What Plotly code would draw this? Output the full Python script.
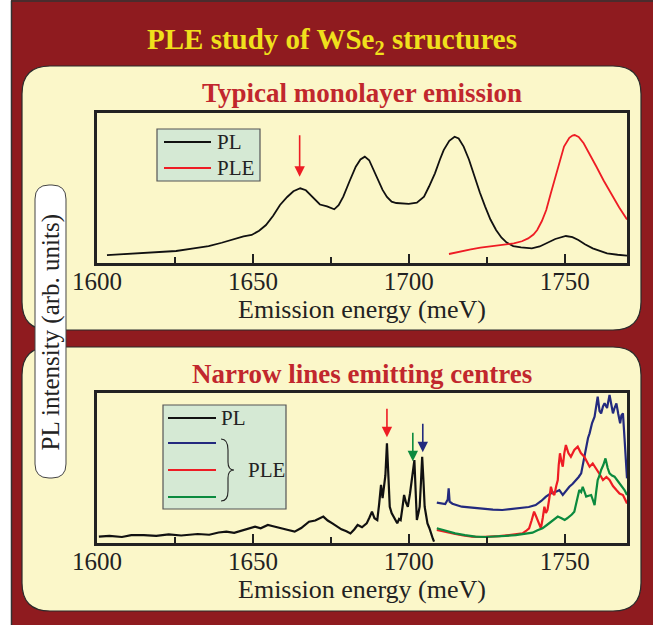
import plotly.graph_objects as go

W, H = 653, 625

# ---------------- data ----------------
# Upper panel: typical monolayer emission
pl_top_e = [1603.2, 1610, 1618, 1625.4, 1631, 1635.8, 1640, 1643.8, 1647, 1649.6, 1652, 1654.2,
            1656.5, 1658.7, 1661, 1663, 1665.2, 1667, 1668, 1669.8, 1671.5, 1673.8, 1676.1,
            1677.5, 1679, 1681, 1683, 1684.5, 1685.9, 1687.3, 1688.7, 1690.2, 1691.6, 1693,
            1694.5, 1696, 1698, 1700, 1702.6, 1704.9, 1706.5, 1708.4, 1710, 1711.2, 1713,
            1714.7, 1716, 1717.6, 1719.3, 1721, 1722.8, 1724.5, 1726.2, 1728, 1729.7, 1731.4,
            1733.5, 1736, 1739.5, 1742, 1744.1, 1747, 1750.4, 1752.5, 1754.4, 1756.5, 1759,
            1761.5, 1763.6, 1767, 1770]
pl_top_i = [0.053, 0.060, 0.070, 0.080, 0.098, 0.113, 0.135, 0.160, 0.178, 0.187, 0.215, 0.253,
            0.315, 0.387, 0.440, 0.478, 0.498, 0.485, 0.464, 0.425, 0.390, 0.378, 0.358,
            0.385, 0.442, 0.545, 0.642, 0.690, 0.709, 0.685, 0.620, 0.548, 0.487, 0.440,
            0.409, 0.400, 0.398, 0.394, 0.402, 0.442, 0.510, 0.598, 0.690, 0.753, 0.815,
            0.842, 0.830, 0.776, 0.690, 0.576, 0.470, 0.376, 0.290, 0.220, 0.170, 0.136,
            0.113, 0.104, 0.098, 0.110, 0.131, 0.160, 0.180, 0.172, 0.153, 0.125, 0.098,
            0.078, 0.064, 0.055, 0.049]

ple_top_e = [1712.9, 1716, 1719.9, 1723, 1726.8, 1730, 1733.7, 1736.3, 1738.3, 1740, 1741.2,
             1742.7, 1744.1, 1745.5, 1747, 1748.5, 1749.8, 1751.5, 1752.5, 1753.2, 1754.5,
             1756.1, 1758, 1760.2, 1762.5, 1764.8, 1767.5, 1770]
ple_top_i = [0.060, 0.075, 0.091, 0.103, 0.113, 0.122, 0.131, 0.145, 0.164, 0.190, 0.220,
             0.280, 0.353, 0.460, 0.576, 0.690, 0.776, 0.835, 0.850, 0.853, 0.840,
             0.798, 0.730, 0.642, 0.550, 0.464, 0.370, 0.290]

# Lower panel: narrow lines emitting centres
pl_bot_e = [1600.6, 1604, 1608, 1611, 1615, 1619, 1623, 1627, 1632.3, 1636, 1639, 1641.5,
            1644, 1647, 1650.7, 1652.5, 1654.8, 1656.5, 1658.8, 1661, 1663.4, 1665.5, 1668,
            1670, 1672.6, 1674, 1675.5, 1677, 1678.4, 1680, 1681.3, 1682.5, 1683.6, 1685,
            1686.5, 1687.4, 1688.2, 1689, 1689.9, 1690.5, 1691.1, 1691.6, 1692, 1692.5, 1693,
            1693.5, 1693.9, 1694.5, 1695.1, 1695.7, 1696.3, 1696.9, 1697.4, 1698, 1698.5,
            1699.1, 1699.7, 1700.4, 1701.1, 1701.8, 1702.2, 1702.6, 1703.1, 1703.5, 1703.9,
            1704.3, 1704.7, 1705.1, 1705.6, 1706, 1706.6, 1707.2, 1707.7, 1708.1]
pl_bot_i = [0.042, 0.048, 0.040, 0.052, 0.053, 0.047, 0.058, 0.050, 0.060, 0.055, 0.070, 0.076,
            0.068, 0.085, 0.109, 0.098, 0.120, 0.112, 0.098, 0.088, 0.076, 0.100, 0.142,
            0.150, 0.176, 0.150, 0.131, 0.110, 0.091, 0.078, 0.064, 0.090, 0.120, 0.105,
            0.131, 0.170, 0.209, 0.165, 0.153, 0.260, 0.387, 0.300, 0.353, 0.450, 0.664,
            0.420, 0.242, 0.200, 0.176, 0.150, 0.131, 0.160, 0.153, 0.240, 0.320,
            0.270, 0.242, 0.330, 0.442, 0.553, 0.350, 0.153, 0.200, 0.242, 0.400,
            0.575, 0.420, 0.242, 0.180, 0.131, 0.100, 0.053, 0.030, 0.009]

ple_blue_e = [1709, 1710.5, 1711.7, 1712.5, 1712.8, 1713.1, 1714, 1717, 1720, 1723.5, 1727,
              1730, 1733, 1736.5, 1738.5, 1740.7, 1742.5, 1744, 1745.5, 1747.2, 1748.3,
              1749.4, 1750.5, 1751.5, 1752.6, 1753.7, 1754.5, 1755.3, 1756.1, 1756.9, 1757.5,
              1758, 1758.8, 1759.6, 1760.1, 1760.6, 1761.2, 1761.7, 1762.3, 1762.8, 1763.6,
              1764.4, 1765, 1765.5, 1766, 1766.6, 1767.2, 1767.8, 1768.2, 1768.7, 1769.2,
              1769.6, 1770]
ple_blue_i = [0.269, 0.265, 0.260, 0.290, 0.364, 0.276, 0.262, 0.242, 0.236, 0.224, 0.222,
              0.220, 0.226, 0.231, 0.240, 0.253, 0.280, 0.309, 0.330, 0.342, 0.352,
              0.320, 0.350, 0.375, 0.395, 0.420, 0.440, 0.464, 0.560, 0.642, 0.700,
              0.731, 0.800, 0.842, 0.900, 0.975, 0.880, 0.864, 0.910, 0.931, 0.900,
              0.987, 0.920, 0.864, 0.900, 0.931, 0.860, 0.798, 0.850, 0.864, 0.700,
              0.553, 0.431]

ple_red_e = [1709, 1712, 1714.9, 1717.5, 1720.3, 1723, 1725.7, 1729, 1732.2, 1734.5, 1736.5,
             1737.6, 1738.6, 1739.4, 1740.2, 1740.8, 1741.3, 1741.9, 1742.4, 1743, 1743.5,
             1744, 1744.5, 1745.1, 1745.6, 1746.2, 1746.7, 1747.3, 1747.8, 1748.1, 1748.5,
             1749, 1749.4, 1749.9, 1750.4, 1751.2, 1752, 1753.1, 1754.2, 1755.2, 1756.3,
             1757.2, 1758, 1759, 1760.1, 1761.2, 1762.3, 1763.4, 1764.4, 1765.5, 1766.6,
             1767.6, 1768.7, 1769.5, 1770]
ple_red_i = [0.087, 0.072, 0.060, 0.050, 0.042, 0.040, 0.042, 0.046, 0.053, 0.058, 0.064,
             0.080, 0.098, 0.150, 0.209, 0.180, 0.153, 0.120, 0.098, 0.170, 0.242,
             0.200, 0.220, 0.300, 0.375, 0.330, 0.320, 0.380, 0.420, 0.520, 0.598,
             0.540, 0.509, 0.600, 0.653, 0.600, 0.575, 0.620, 0.642, 0.600, 0.575,
             0.540, 0.509, 0.530, 0.498, 0.460, 0.420, 0.440, 0.420, 0.380, 0.353,
             0.330, 0.320, 0.290, 0.264]

ple_green_e = [1709, 1712, 1714.9, 1718, 1721.4, 1724.5, 1727.8, 1731, 1734.3, 1737, 1739.7,
               1741.3, 1742.9, 1744.3, 1745.6, 1746.7, 1747.8, 1749, 1750, 1750.8, 1751.5,
               1752.3, 1753.1, 1753.9, 1754.7, 1755.3, 1755.8, 1756.4, 1756.9, 1757.7,
               1758.5, 1759, 1759.6, 1760.1, 1760.6, 1761.2, 1761.7, 1762.4, 1763.1, 1763.8,
               1764.4, 1765.2, 1766, 1766.8, 1767.6, 1768.4, 1769.2, 1770]
ple_green_i = [0.098, 0.080, 0.064, 0.052, 0.042, 0.040, 0.042, 0.047, 0.053, 0.060, 0.069,
               0.085, 0.098, 0.120, 0.142, 0.160, 0.176, 0.165, 0.153, 0.165, 0.176,
               0.190, 0.209, 0.280, 0.353, 0.340, 0.375, 0.340, 0.309, 0.315,
               0.320, 0.290, 0.253, 0.340, 0.420, 0.450, 0.487, 0.520, 0.564, 0.500,
               0.464, 0.450, 0.442, 0.420, 0.398, 0.370, 0.353, 0.320]

# excitation arrows: (energy, tip height, colour)
arrows_top = [(1665.0, 0.575, "#ee1c24")]
arrows_bot = [(1693.0, 0.705, "#ee1c24"), (1701.3, 0.545, "#0b8a3e"), (1704.5, 0.605, "#232a7e")]

tick_vals = [1600, 1650, 1700, 1750]
tick_text = ["1600", "1650", "1700", "1750"]

# ---------------- styling ----------------
SERIF = "Liberation Serif, Times New Roman, serif"
FRAME = "#8f1b1f"
CREAM = "#fbf7c9"
TITLE_RED = "#c1272d"
INK = "#222222"
LEG_FILL = "#d5e9d4"
C_BLACK = "#111111"
C_RED = "#ee1c24"
C_BLUE = "#232a7e"
C_GREEN = "#0b8a3e"


def px(x):
    return x / W


def py(y):
    return 1 - y / H


def pth(cmds):
    out = []
    for seg in cmds:
        cmd = seg[0]
        coords = " ".join(f"{px(a):.5f},{py(b):.5f}" for a, b in seg[1:])
        out.append(f"{cmd} {coords}")
    return " ".join(out)


def rrect(x0, y0, x1, y1, r):
    return pth([
        ("M", (x0 + r, y0)), ("L", (x1 - r, y0)), ("Q", (x1, y0), (x1, y0 + r)),
        ("L", (x1, y1 - r)), ("Q", (x1, y1), (x1 - r, y1)), ("L", (x0 + r, y1)),
        ("Q", (x0, y1), (x0, y1 - r)), ("L", (x0, y0 + r)), ("Q", (x0, y0), (x0 + r, y0)),
    ]) + " Z"


fig = go.Figure()

fig.add_trace(go.Scatter(x=pl_top_e, y=pl_top_i, mode="lines", line=dict(color=C_BLACK, width=1.8),
                         xaxis="x", yaxis="y", showlegend=False))
fig.add_trace(go.Scatter(x=ple_top_e, y=ple_top_i, mode="lines", line=dict(color=C_RED, width=1.8),
                         xaxis="x", yaxis="y", showlegend=False))
fig.add_trace(go.Scatter(x=pl_bot_e, y=pl_bot_i, mode="lines", line=dict(color=C_BLACK, width=2.2),
                         xaxis="x2", yaxis="y2", showlegend=False))
fig.add_trace(go.Scatter(x=ple_blue_e, y=ple_blue_i, mode="lines", line=dict(color=C_BLUE, width=2.2),
                         xaxis="x2", yaxis="y2", showlegend=False))
fig.add_trace(go.Scatter(x=ple_red_e, y=ple_red_i, mode="lines", line=dict(color=C_RED, width=2.2),
                         xaxis="x2", yaxis="y2", showlegend=False))
fig.add_trace(go.Scatter(x=ple_green_e, y=ple_green_i, mode="lines", line=dict(color=C_GREEN, width=2.2),
                         xaxis="x2", yaxis="y2", showlegend=False))

shapes = []
# white strip and dark edge of the frame
shapes.append(dict(type="rect", xref="paper", yref="paper", x0=0, x1=px(11), y0=0, y1=1,
                   fillcolor="white", line=dict(width=0), layer="below"))
shapes.append(dict(type="line", xref="paper", yref="paper", x0=px(11.5), x1=px(11.5), y0=0, y1=py(0.5),
                   line=dict(color="#333", width=1.5), layer="below"))
shapes.append(dict(type="line", xref="paper", yref="paper", x0=px(11.5), x1=1, y0=py(1), y1=py(1),
                   line=dict(color="#333", width=1.5), layer="below"))
# cream panels
for y0, y1 in [(66, 330), (347, 611)]:
    shapes.append(dict(type="path", xref="paper", yref="paper", path=rrect(22, y0, 641, y1, 28),
                       fillcolor=CREAM, line=dict(color="#2b2b2b", width=1.2), layer="below"))
# rounded box for the shared y label
shapes.append(dict(type="path", xref="paper", yref="paper", path=rrect(35, 185, 66, 478, 14),
                   fillcolor="white", line=dict(color="#444", width=1), layer="below"))

# legend, upper panel
shapes.append(dict(type="rect", xref="paper", yref="paper", x0=px(157), x1=px(260), y0=py(181), y1=py(129),
                   fillcolor=LEG_FILL, line=dict(color="#555", width=1.2), layer="above"))
for yy, col in [(142, C_BLACK), (168, C_RED)]:
    shapes.append(dict(type="line", xref="paper", yref="paper", x0=px(164), x1=px(211), y0=py(yy), y1=py(yy),
                       line=dict(color=col, width=1.8), layer="above"))
# legend, lower panel
shapes.append(dict(type="rect", xref="paper", yref="paper", x0=px(163), x1=px(286), y0=py(509), y1=py(405),
                   fillcolor=LEG_FILL, line=dict(color="#555", width=1.2), layer="above"))
for yy, col in [(418, C_BLACK), (443, C_BLUE), (470, C_RED), (497, C_GREEN)]:
    shapes.append(dict(type="line", xref="paper", yref="paper", x0=px(168), x1=px(216), y0=py(yy), y1=py(yy),
                       line=dict(color=col, width=1.8), layer="above"))
# curly brace grouping the PLE lines
brace = pth([
    ("M", (221, 439)),
    ("C", (226, 439), (228, 443), (228, 450)),
    ("L", (228, 462)),
    ("C", (228, 468), (230, 470), (234, 470)),
    ("C", (230, 470), (228, 472), (228, 478)),
    ("L", (228, 491)),
    ("C", (228, 498), (226, 501), (221, 501)),
])
shapes.append(dict(type="path", xref="paper", yref="paper", path=brace,
                   line=dict(color="#222", width=1.1), layer="above"))

annotations = [
    dict(text="<b>PLE study of WSe<sub>2</sub> structures</b>", x=px(332), y=py(41), xref="paper", yref="paper",
         showarrow=False, font=dict(family=SERIF, size=29, color="#f0e01c"), xanchor="center", yanchor="middle"),
    dict(text="<b>Typical monolayer emission</b>", x=px(362), y=py(93), xref="paper", yref="paper",
         showarrow=False, font=dict(family=SERIF, size=27, color=TITLE_RED), xanchor="center", yanchor="middle"),
    dict(text="<b>Narrow lines emitting centres</b>", x=px(362), y=py(374), xref="paper", yref="paper",
         showarrow=False, font=dict(family=SERIF, size=27, color=TITLE_RED), xanchor="center", yanchor="middle"),
    dict(text="PL intensity (arb. units)", x=px(50.5), y=py(332), xref="paper", yref="paper", textangle=-90,
         showarrow=False, font=dict(family=SERIF, size=25, color=INK), xanchor="center", yanchor="middle"),
    dict(text="PL", x=px(215), y=py(142), xref="paper", yref="paper", showarrow=False,
         font=dict(family=SERIF, size=21, color=INK), xanchor="left", yanchor="middle"),
    dict(text="PLE", x=px(215), y=py(168), xref="paper", yref="paper", showarrow=False,
         font=dict(family=SERIF, size=21, color=INK), xanchor="left", yanchor="middle"),
    dict(text="PL", x=px(219), y=py(418), xref="paper", yref="paper", showarrow=False,
         font=dict(family=SERIF, size=21, color=INK), xanchor="left", yanchor="middle"),
    dict(text="PLE", x=px(246), y=py(470), xref="paper", yref="paper", showarrow=False,
         font=dict(family=SERIF, size=21, color=INK), xanchor="left", yanchor="middle"),
]
for e, v, col in arrows_top:
    annotations.append(dict(x=e, y=v, xref="x", yref="y", ax=0, ay=-43, showarrow=True, arrowhead=2,
                            arrowsize=1.3, arrowwidth=1.6, arrowcolor=col, text=""))
for e, v, col in arrows_bot:
    annotations.append(dict(x=e, y=v, xref="x2", yref="y2", ax=0, ay=-30, showarrow=True, arrowhead=2,
                            arrowsize=1.3, arrowwidth=1.6, arrowcolor=col, text=""))

xdom = [px(97), px(627)]
common_x = dict(range=[1600, 1770], tickmode="array", tickvals=tick_vals, ticktext=tick_text,
                ticks="inside", ticklen=9, tickwidth=2, tickcolor=INK,
                minor=dict(ticks="inside", ticklen=6, tickwidth=2, tickcolor=INK, dtick=25, tick0=1600),
                showline=True, mirror=True, linewidth=3, linecolor=INK, showgrid=False, zeroline=False,
                automargin=False, ticklabelstandoff=-6,
                tickfont=dict(family=SERIF, size=25, color=INK),
                title=dict(text="Emission energy (meV)", font=dict(family=SERIF, size=26, color=INK), standoff=0))
common_y = dict(range=[0, 1], showticklabels=False, ticks="", showline=True, mirror=True, linewidth=3,
                linecolor=INK, showgrid=False, zeroline=False, automargin=False)

fig.update_layout(
    width=W, height=H, margin=dict(l=0, r=0, t=0, b=0, pad=0, autoexpand=False),
    paper_bgcolor=FRAME, plot_bgcolor="white",
    xaxis=dict(domain=xdom, anchor="y", **common_x),
    yaxis=dict(domain=[py(263), py(113)], anchor="x", **common_y),
    xaxis2=dict(domain=xdom, anchor="y2", **common_x),
    yaxis2=dict(domain=[py(543), py(393)], anchor="x2", **common_y),
    shapes=shapes, annotations=annotations, showlegend=False,
)

fig.write_html("out.html")
